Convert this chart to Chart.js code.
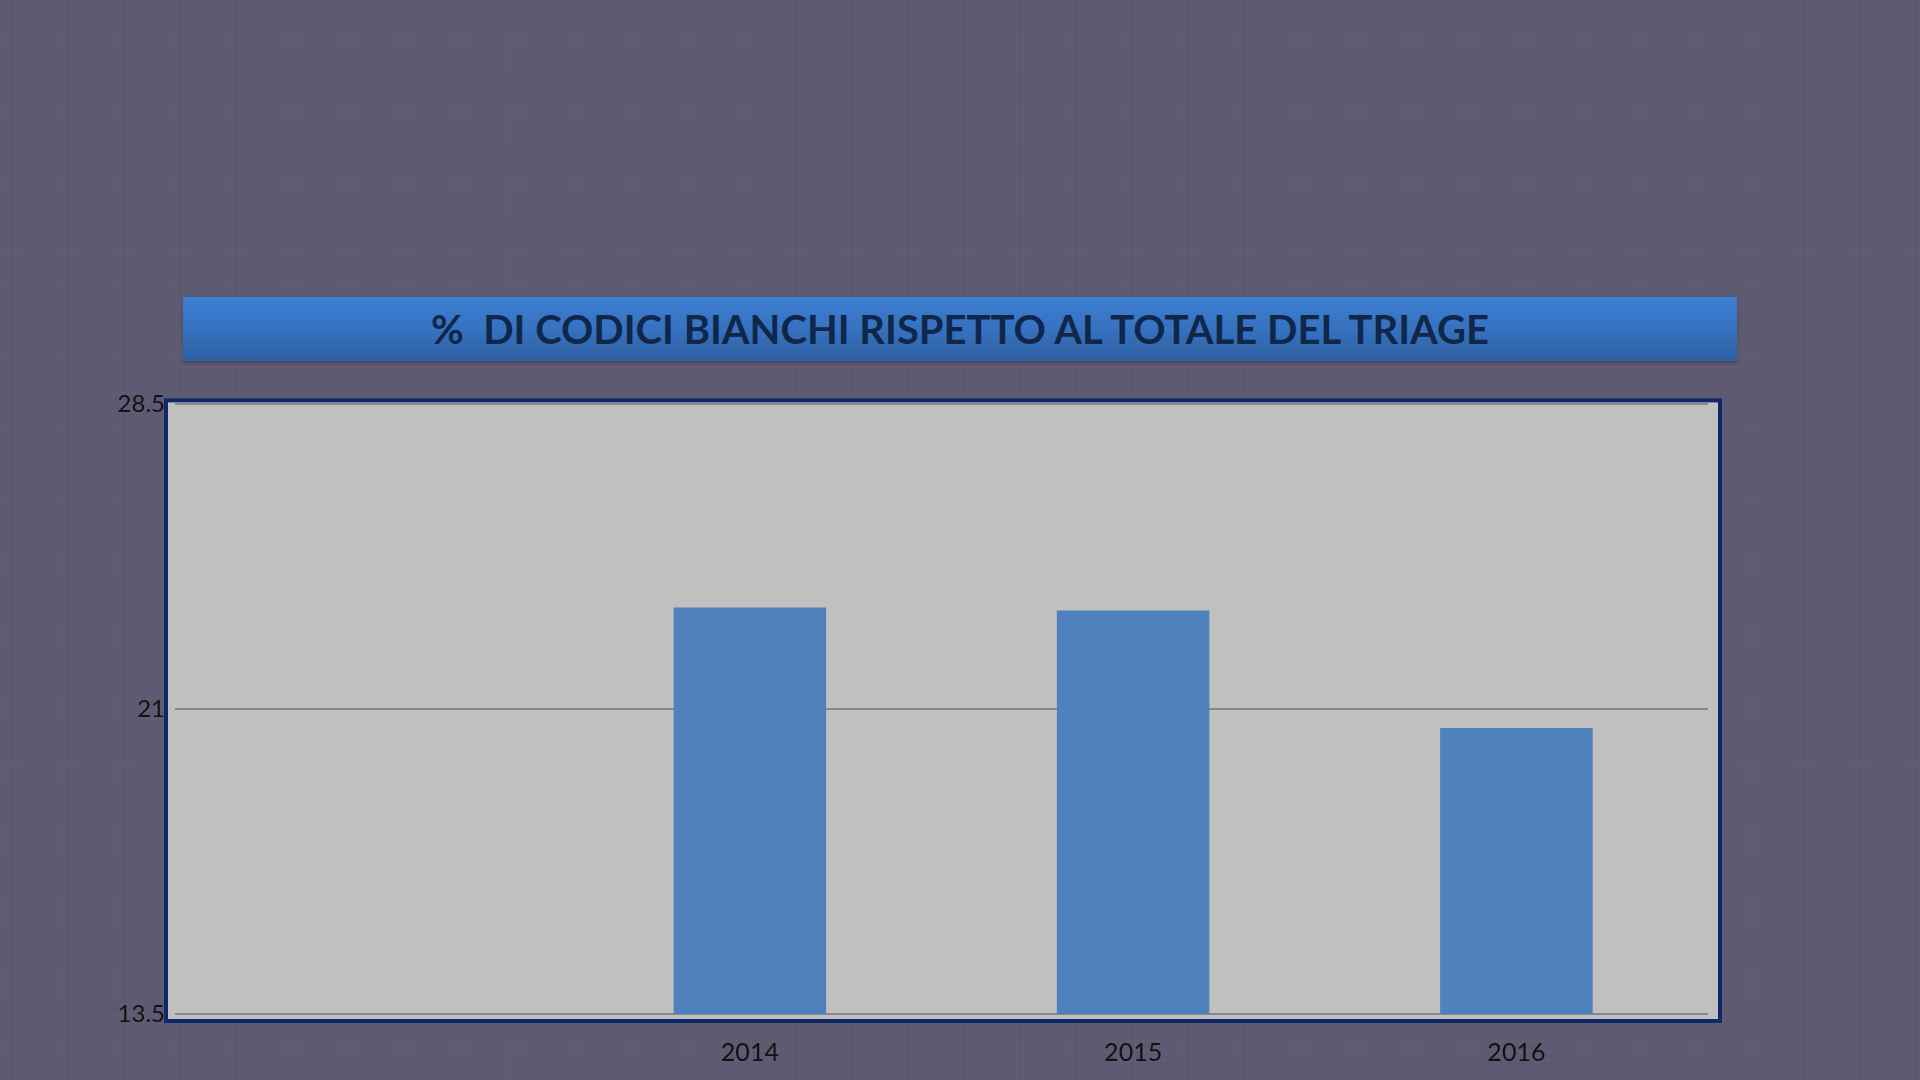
<!DOCTYPE html>
<html>
<head>
<meta charset="utf-8">
<script src="https://cdn.jsdelivr.net/npm/chart.js@4/dist/chart.umd.min.js"></script>
<style>
  html, body { margin: 0; padding: 0; }
  body {
    width: 1920px; height: 1080px; overflow: hidden; position: relative;
    background-color: #5e5a72;
    background-image:
      repeating-linear-gradient(90deg, rgba(255,255,255,0.008) 0 3px, rgba(0,0,0,0.008) 3px 7px),
      repeating-linear-gradient(0deg, rgba(255,255,255,0.007) 0 4px, rgba(0,0,0,0.007) 4px 9px);
  }
  #titlebar {
    position: absolute; left: 183px; top: 297px; width: 1554px; height: 64px;
    background: linear-gradient(#3d7ed2, #3672c0 50%, #2f5f9f);
    box-shadow: 0 2px 3px rgba(0,0,0,0.25);
    color: #10274a; font-family: Lato, "Open Sans", sans-serif; font-weight: bold;
    font-size: 40px; line-height: 64px; text-align: center; white-space: pre;
  }
  #wrap { position: absolute; left: 0; top: 380px; width: 1920px; height: 700px; }
</style>
</head>
<body>
<div id="titlebar">%  DI CODICI BIANCHI RISPETTO AL TOTALE DEL TRIAGE</div>
<div id="wrap"><canvas id="chart"></canvas></div>
<script>
// chart data
var categories = ["", "2014", "2015", "2016"];
var bianchi = [null, 23.5, 23.43, 20.54];
var yMin = 13.5;
var yMax = 28.5;
var yStep = 7.5;

// grey plot box with navy frame behind the bars
var plotBox = {
  id: "plotBox",
  beforeDraw: function (chart) {
    var ca = chart.chartArea;
    var ctx = chart.ctx;
    ctx.save();
    ctx.fillStyle = "#c0c0c0";
    ctx.fillRect(ca.left - 9, ca.top - 4, ca.right - ca.left + 21, ca.bottom - ca.top + 11);
    ctx.strokeStyle = "#0e2868";
    ctx.lineWidth = 4;
    ctx.strokeRect(ca.left - 9, ca.top - 4, ca.right - ca.left + 21, ca.bottom - ca.top + 11);
    ctx.restore();
  }
};

var ctx = document.getElementById("chart").getContext("2d");
new Chart(ctx, {
  type: "bar",
  data: {
    labels: categories,
    datasets: [{
      label: "% codici bianchi",
      data: bianchi,
      backgroundColor: "#4f81bd",
      borderWidth: 0,
      categoryPercentage: 1,
      barPercentage: 0.398
    }]
  },
  options: {
    responsive: true,
    maintainAspectRatio: false,
    animation: false,
    layout: { padding: { top: 22, right: 212, left: 0, bottom: 0 } },
    plugins: {
      legend: { display: false },
      tooltip: { enabled: false }
    },
    scales: {
      x: {
        grid: { display: false, drawTicks: false },
        border: { display: false },
        ticks: {
          color: "#111111",
          padding: 24,
          font: { family: "Lato, 'Open Sans', sans-serif", size: 25 }
        },
        afterFit: function (scale) { scale.height = 66; }
      },
      y: {
        min: yMin,
        max: yMax,
        grid: { color: "#878787", lineWidth: 2, drawTicks: false },
        border: { display: false },
        ticks: {
          stepSize: yStep,
          color: "#111111",
          padding: 10,
          font: { family: "Lato, 'Open Sans', sans-serif", size: 24 },
          callback: function (v) { return String(v); }
        },
        afterFit: function (scale) { scale.width = 175; }
      }
    }
  },
  plugins: [plotBox]
});
</script>
</body>
</html>
